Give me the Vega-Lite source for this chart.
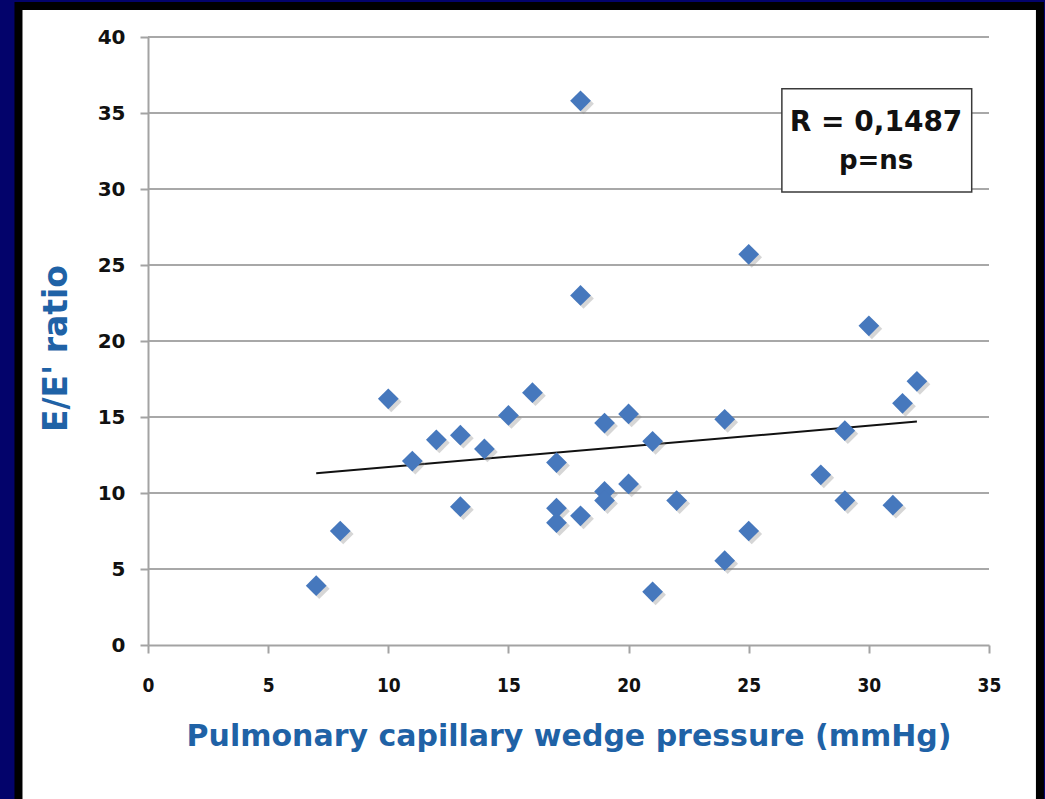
{
  "$schema": "https://vega.github.io/schema/vega-lite/v6.json",
  "autosize": {"type": "none"},
  "width": 841,
  "height": 608,
  "padding": {"left": 148, "top": 37, "right": 56, "bottom": 154},
  "background": "#03036b",
  "config": {
    "view": {"stroke": null}
  },
  "datasets": {
    "pts": [
      {"pcwp": 7, "ee": 3.9}, {"pcwp": 8, "ee": 7.5}, {"pcwp": 10, "ee": 16.2},
      {"pcwp": 11, "ee": 12.1}, {"pcwp": 12, "ee": 13.5}, {"pcwp": 13, "ee": 13.8},
      {"pcwp": 13, "ee": 9.1}, {"pcwp": 14, "ee": 12.9}, {"pcwp": 15, "ee": 15.1},
      {"pcwp": 16, "ee": 16.6}, {"pcwp": 17, "ee": 12.0}, {"pcwp": 17, "ee": 9.0},
      {"pcwp": 17, "ee": 8.05}, {"pcwp": 18, "ee": 8.5}, {"pcwp": 18, "ee": 35.8},
      {"pcwp": 18, "ee": 23.0}, {"pcwp": 19, "ee": 14.6}, {"pcwp": 19, "ee": 10.1},
      {"pcwp": 19, "ee": 9.5}, {"pcwp": 20, "ee": 15.2}, {"pcwp": 20, "ee": 10.6},
      {"pcwp": 21, "ee": 13.4}, {"pcwp": 21, "ee": 3.5}, {"pcwp": 22, "ee": 9.5},
      {"pcwp": 24, "ee": 14.85}, {"pcwp": 24, "ee": 5.55}, {"pcwp": 25, "ee": 7.5},
      {"pcwp": 25, "ee": 25.7}, {"pcwp": 28, "ee": 11.2}, {"pcwp": 29, "ee": 14.1},
      {"pcwp": 29, "ee": 9.5}, {"pcwp": 30, "ee": 21.0}, {"pcwp": 31, "ee": 9.2},
      {"pcwp": 31.4, "ee": 15.9}, {"pcwp": 32, "ee": 17.35}
    ],
    "trend": [{"pcwp": 7, "ee": 11.3}, {"pcwp": 32, "ee": 14.7}],
    "grid": [{"g": 5}, {"g": 10}, {"g": 15}, {"g": 20}, {"g": 25}, {"g": 30}, {"g": 35}, {"g": 40}],
    "note": [{"t": "R = 0,1487"}],
    "note2": [{"t": "p=ns"}]
  },
  "layer": [
    {
      "data": {"values": [{}]},
      "mark": {"type": "rect", "fill": "white", "stroke": "black", "strokeWidth": 8},
      "encoding": {
        "x": {
          "datum": -5.39, "type": "quantitative",
          "scale": {"domain": [0, 35], "nice": false, "zero": false},
          "axis": {
            "zindex": 1,
            "values": [0, 5, 10, 15, 20, 25, 30, 35],
            "title": "Pulmonary capillary wedge  pressure (mmHg)",
            "grid": false,
            "labelFlush": false,
            "domainColor": "#a3a3a3", "domainWidth": 2,
            "tickColor": "#a3a3a3", "tickWidth": 2, "tickSize": 8,
            "labelFont": "Liberation Sans Narrow, DejaVu Sans Condensed, sans-serif",
            "labelFontWeight": "bold", "labelFontSize": 19, "labelColor": "#111111",
            "labelPadding": 23,
            "titleFont": "DejaVu Sans", "titleFontWeight": "bold", "titleFontSize": 30,
            "titleColor": "#1f62a6", "titlePadding": 26
          }
        },
        "x2": {"datum": 37.12},
        "y": {
          "datum": 42.04, "type": "quantitative",
          "scale": {"domain": [0, 40], "nice": false, "zero": false},
          "axis": {
            "zindex": 1,
            "values": [0, 5, 10, 15, 20, 25, 30, 35, 40],
            "title": "E/E' ratio",
            "grid": false,
            "labelFlush": false,
            "domainColor": "#a3a3a3", "domainWidth": 2,
            "tickColor": "#a3a3a3", "tickWidth": 2, "tickSize": 8,
            "labelFont": "DejaVu Sans", "labelFontWeight": "bold", "labelFontSize": 20, "labelColor": "#111111",
            "labelPadding": 15,
            "titleFont": "DejaVu Sans", "titleFontWeight": "bold", "titleFontSize": 33,
            "titleColor": "#1f62a6", "titlePadding": 24,
            "titleY": 311
          }
        },
        "y2": {"datum": -11.5}
      }
    },
    {
      "data": {"name": "grid"},
      "mark": {"type": "rule", "color": "#a8a8a8", "strokeWidth": 2},
      "encoding": {
        "y": {"field": "g", "type": "quantitative", "scale": {"domain": [0, 40], "nice": false}},
        "x": {"datum": 0, "type": "quantitative", "scale": {"domain": [0, 35], "nice": false}},
        "x2": {"datum": 35}
      }
    },
    {
      "data": {"name": "trend"},
      "mark": {"type": "line", "color": "#111111", "strokeWidth": 2},
      "encoding": {
        "x": {"field": "pcwp", "type": "quantitative", "scale": {"domain": [0, 35], "nice": false}},
        "y": {"field": "ee", "type": "quantitative", "scale": {"domain": [0, 40], "nice": false}}
      }
    },
    {
      "data": {"name": "pts"},
      "mark": {"type": "point", "shape": "diamond", "filled": true, "size": 430, "color": "#8a8a8a", "opacity": 0.35, "xOffset": 3, "yOffset": 3},
      "encoding": {
        "x": {"field": "pcwp", "type": "quantitative", "scale": {"domain": [0, 35], "nice": false}},
        "y": {"field": "ee", "type": "quantitative", "scale": {"domain": [0, 40], "nice": false}}
      }
    },
    {
      "data": {"name": "pts"},
      "mark": {"type": "point", "shape": "diamond", "filled": true, "size": 430, "color": "#4678bd", "opacity": 1},
      "encoding": {
        "x": {"field": "pcwp", "type": "quantitative", "scale": {"domain": [0, 35], "nice": false}},
        "y": {"field": "ee", "type": "quantitative", "scale": {"domain": [0, 40], "nice": false}}
      }
    },
    {
      "data": {"values": [{}]},
      "mark": {"type": "rect", "fill": "white", "stroke": "#3a3a3a", "strokeWidth": 1.5},
      "encoding": {
        "x": {"datum": 26.38, "type": "quantitative", "scale": {"domain": [0, 35], "nice": false}},
        "x2": {"datum": 34.28},
        "y": {"datum": 36.6, "type": "quantitative", "scale": {"domain": [0, 40], "nice": false}},
        "y2": {"datum": 29.8}
      }
    },
    {
      "data": {"name": "note"},
      "mark": {"type": "text", "font": "DejaVu Sans", "fontWeight": "bold", "fontSize": 28, "color": "#111111", "align": "center", "baseline": "alphabetic"},
      "encoding": {
        "text": {"field": "t"},
        "x": {"datum": 30.3, "type": "quantitative", "scale": {"domain": [0, 35], "nice": false}},
        "y": {"datum": 33.8, "type": "quantitative", "scale": {"domain": [0, 40], "nice": false}}
      }
    },
    {
      "data": {"name": "note2"},
      "mark": {"type": "text", "font": "DejaVu Sans", "fontWeight": "bold", "fontSize": 26, "color": "#111111", "align": "center", "baseline": "alphabetic"},
      "encoding": {
        "text": {"field": "t"},
        "x": {"datum": 30.3, "type": "quantitative", "scale": {"domain": [0, 35], "nice": false}},
        "y": {"datum": 31.3, "type": "quantitative", "scale": {"domain": [0, 40], "nice": false}}
      }
    }
  ]
}
